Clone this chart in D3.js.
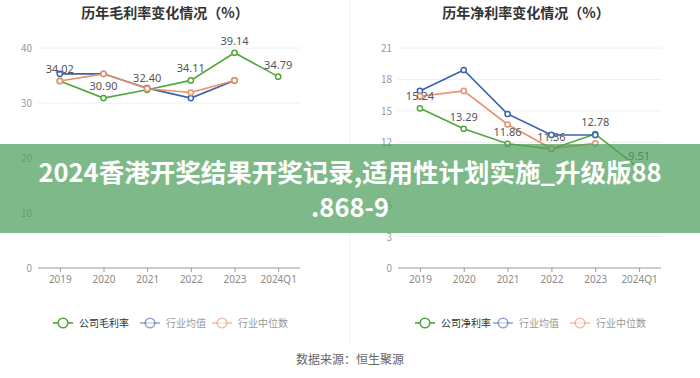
<!DOCTYPE html>
<html>
<head>
<meta charset="utf-8">
<script src="https://cdn.jsdelivr.net/npm/d3@7"></script>
<style>
  body { margin: 0; background: #fff; }
  svg { display: block; font-family: "Noto Sans CJK SC", "Noto Sans", sans-serif; }
</style>
</head>
<body>
<div id="chart"></div>
<script>
const years = ["2019", "2020", "2021", "2022", "2023", "2024Q1"]

// gross margin (left)
const grossCompany = [34.02, 30.90, 32.40, 34.11, 39.14, 34.79]
const grossIndustryAvg = [35.3, 35.3, 32.7, 30.9, 34.1]
const grossIndustryMedian = [34.0, 35.3, 32.6, 31.9, 34.1]
const grossTicks = [0, 10, 20, 30, 40]

// net margin (right)
const netCompany = [15.24, 13.29, 11.86, 11.36, 12.78, 9.51]
const netIndustryAvg = [16.9, 18.9, 14.7, 12.7, 12.7]
const netIndustryMedian = [16.4, 16.9, 13.7, 11.4, 11.9]
const netTicks = [0, 3, 6, 9, 12, 15, 18, 21]

const bannerLines = ["2024香港开奖结果开奖记录,适用性计划实施_升级版88", ".868-9"]

const colors = {green: "#52a63c", blue: "#3b62ae", orange: "#e8916b"}

const W = 700, H = 378

const svg = d3.select("#chart").append("svg")
    .attr("width", W)
    .attr("height", H)

// faint divider between the two panels
svg.append("line")
    .attr("x1", 350).attr("x2", 350)
    .attr("y1", 0).attr("y2", 345)
    .attr("stroke", "#f2f2f2")

function drawPanel(opt) {
    const g = svg.append("g")

    const x = d3.scalePoint()
        .domain(years)
        .range([opt.x0, opt.x1])
        .padding(0.5)

    const y = d3.scaleLinear()
        .domain([0, d3.max(opt.ticks)])
        .range([268, 48])

    g.append("text")
        .attr("x", opt.titleX)
        .attr("y", 18)
        .attr("text-anchor", "middle")
        .style("font-size", "14px")
        .style("font-weight", "bold")
        .attr("fill", "#333")
        .text(opt.title)

    // gridlines
    g.selectAll(".grid")
        .data(opt.ticks.filter(t => t > 0))
        .join("line")
        .attr("x1", opt.x0).attr("x2", opt.x1)
        .attr("y1", d => y(d)).attr("y2", d => y(d))
        .attr("stroke", "#eeeeee")

    // y tick labels
    g.selectAll(".ylab")
        .data(opt.ticks)
        .join("text")
        .attr("x", opt.x0 - 6)
        .attr("y", d => y(d) + 4)
        .attr("text-anchor", "end")
        .style("font-size", "10px")
        .attr("fill", "#9a9a9a")
        .text(d => d)

    // x axis
    const xAxis = g.append("g")
        .attr("transform", `translate(0, ${y(0)})`)
        .call(d3.axisBottom(x).tickSize(4).tickPadding(4))
    xAxis.select(".domain").attr("stroke", "#999").attr("d", `M${opt.x0},0H${opt.x1}`)
    xAxis.selectAll(".tick line").attr("stroke", "#999")
    xAxis.selectAll(".tick text")
        .style("font-size", "10px")
        .style("font-family", "'Noto Sans', sans-serif")
        .attr("fill", "#8a8a8a")

    const line = d3.line()
        .x((d, i) => x(years[i]))
        .y(d => y(d))

    const series = [
        {vals: opt.company, color: colors.green},
        {vals: opt.avg, color: colors.blue},
        {vals: opt.median, color: colors.orange}
    ]

    series.forEach(s => {
        g.append("path")
            .datum(s.vals)
            .attr("d", line)
            .attr("fill", "none")
            .attr("stroke", s.color)
            .attr("stroke-width", 1.6)
        g.selectAll(null)
            .data(s.vals)
            .join("circle")
            .attr("cx", (d, i) => x(years[i]))
            .attr("cy", d => y(d))
            .attr("r", 2.6)
            .attr("fill", "#fff")
            .attr("stroke", s.color)
            .attr("stroke-width", 1.5)
    })

    // value labels on company series
    g.selectAll(".vlab")
        .data(opt.company)
        .join("text")
        .attr("x", (d, i) => x(years[i]))
        .attr("y", d => y(d) - 8)
        .attr("text-anchor", "middle")
        .style("font-size", "11px")
        .style("font-family", "'Noto Sans', sans-serif")
        .attr("fill", "#555")
        .text(d => d.toFixed(2))

    // legend
    const legendItems = [
        {label: opt.companyLabel, color: colors.green, x: opt.legendX[0], text: "#333", op: 1},
        {label: "行业均值", color: colors.blue, x: opt.legendX[1], text: "#999", op: 0.55},
        {label: "行业中位数", color: colors.orange, x: opt.legendX[2], text: "#999", op: 0.55}
    ]
    const lg = g.selectAll(".legend")
        .data(legendItems)
        .join("g")
        .attr("transform", d => `translate(${d.x}, 323)`)
    lg.append("line")
        .attr("x1", -10).attr("x2", 10)
        .attr("stroke", d => d.color)
        .attr("stroke-width", 1.6)
        .attr("opacity", d => d.op)
    lg.append("circle")
        .attr("r", 4.8)
        .attr("fill", "#fff")
        .attr("stroke", d => d.color)
        .attr("stroke-width", 1.6)
        .attr("opacity", d => d.op)
    lg.append("text")
        .attr("x", 16)
        .attr("y", 3.5)
        .style("font-size", "10px")
        .attr("fill", d => d.text)
        .text(d => d.label)
}

drawPanel({
    title: "历年毛利率变化情况（%）",
    titleX: 165,
    x0: 38, x1: 300,
    ticks: grossTicks,
    company: grossCompany,
    avg: grossIndustryAvg,
    median: grossIndustryMedian,
    companyLabel: "公司毛利率",
    legendX: [63, 150, 222]
})

drawPanel({
    title: "历年净利率变化情况（%）",
    titleX: 526,
    x0: 398, x1: 661,
    ticks: netTicks,
    company: netCompany,
    avg: netIndustryAvg,
    median: netIndustryMedian,
    companyLabel: "公司净利率",
    legendX: [425, 503, 580]
})

svg.append("text")
    .attr("x", 350)
    .attr("y", 364)
    .attr("text-anchor", "middle")
    .style("font-size", "12px")
    .attr("fill", "#666")
    .text("数据来源：恒生聚源")

// overlay banner
svg.append("rect")
    .attr("x", 0).attr("y", 144)
    .attr("width", W).attr("height", 89)
    .attr("fill", "rgb(76, 160, 92)")
    .attr("opacity", 0.72)

svg.selectAll(".banner")
    .data(bannerLines)
    .join("text")
    .attr("x", 350)
    .attr("y", (d, i) => 182 + i * 35)
    .attr("text-anchor", "middle")
    .style("font-size", "25.5px")
    .style("font-weight", "bold")
    .attr("fill", "#fff")
    .text(d => d)
</script>
</body>
</html>
